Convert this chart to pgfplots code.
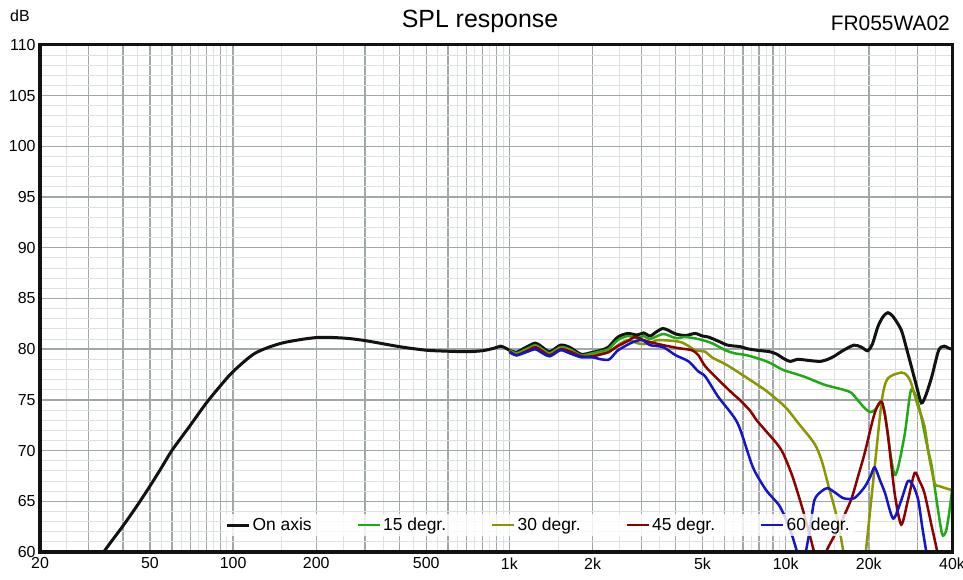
\documentclass[border=0pt]{standalone}
\usepackage{fontspec}
\setmainfont{Liberation Sans}
\usepackage{pgfplots}
\pgfplotsset{compat=1.18}
\definecolor{cgreen}{RGB}{30,170,20}
\definecolor{colive}{RGB}{140,150,0}
\definecolor{cred}{RGB}{140,0,0}
\definecolor{cblue}{RGB}{20,20,200}
\definecolor{gmaj}{RGB}{160,168,168}
\definecolor{gmin}{RGB}{222,225,225}
\begin{document}
\begin{tikzpicture}
\useasboundingbox (-40bp,-28bp) rectangle (923bp,552bp);
\begin{axis}[
  at={(0,0)}, anchor=south west, scale only axis,
  width=912bp, height=507bp,
  xmode=log, xmin=20, xmax=40000, ymin=60, ymax=110,
  xtick={20,30,40,50,60,70,80,90,100,200,300,400,500,600,700,800,900,1000,2000,3000,4000,5000,6000,7000,8000,9000,10000,20000,30000,40000},
  xticklabels={20,{},{},50,{},{},{},{},100,200,{},{},500,{},{},{},{},1k,2k,{},{},5k,{},{},{},{},10k,20k,{},40k},
  minor xtick={25,35,45,55,65,75,85,95,150,250,350,450,550,650,750,850,950,1500,2500,3500,4500,5500,6500,7500,8500,9500,15000,25000,35000},
  ytick={60,65,70,75,80,85,90,95,100,105,110},
  minor ytick={61,62,63,64,66,67,68,69,71,72,73,74,76,77,78,79,81,82,83,84,86,87,88,89,91,92,93,94,96,97,98,99,101,102,103,104,106,107,108,109},
  grid=both,
  major grid style={gmaj, line width=1.4bp},
  minor grid style={gmin, line width=1bp},
  major tick length=0pt, minor tick length=0pt,
  axis line style={draw=none},
  tick label style={font=\fontsize{16}{19}\selectfont},
  /pgf/number format/assume math mode=true,
  yticklabel style={xshift=-1bp},
  xticklabel style={yshift=-2bp},
  legend columns=5,
  legend style={draw=none, fill=white, fill opacity=0.8, text opacity=1,
    at={(axis description cs:0.2,0.053)}, anchor=west,
    font=\fontsize{17.5}{20}\selectfont,
    /tikz/every even column/.append style={column sep=43bp}},
  legend image code/.code={\draw[#1] (0bp,0bp) -- (22bp,0bp);},
  every axis plot/.append style={smooth, tension=0.45},
]
\addplot[black!93, line width=3bp] coordinates {
(30,57.7) (34,60.0) (40,62.6) (45,64.6) (50,66.5) (55,68.3) (60,70.0) (70,72.5) (80,74.7) (90,76.4) (100,77.8) (120,79.6) (150,80.6) (200,81.15) (250,81.1) (300,80.85) (400,80.25) (500,79.9) (600,79.8) (700,79.75) (800,79.85) (880,80.1) (930,80.3) (970,80.1) (1000,79.9) (1060,79.7) (1150,80.2) (1240,80.6) (1300,80.3) (1400,79.75) (1530,80.4) (1650,80.2) (1820,79.5) (2000,79.7) (2150,79.9) (2280,80.2) (2470,81.2) (2680,81.55) (2900,81.4) (3060,81.6) (3230,81.3) (3400,81.7) (3600,82.05) (3800,81.8) (4000,81.5) (4340,81.35) (4700,81.55) (5000,81.3) (5250,81.2) (5700,80.8) (6160,80.4) (6850,80.25) (7250,80.05) (7850,79.9) (8770,79.75) (9300,79.5) (9800,79.1) (10380,78.8) (11000,79.0) (11640,78.95) (12500,78.85) (13400,78.8) (14200,79.0) (14970,79.3) (16200,79.9) (17680,80.4) (18800,80.2) (19800,79.85) (20600,80.5) (21550,82.2) (22500,83.2) (23430,83.6) (24500,83.2) (26200,81.9) (27300,80.2) (28500,78.3) (29800,76.3) (31000,74.7) (32200,75.5) (33800,77.3) (35800,79.9) (37500,80.3) (38900,80.1) (40000,80.0)
};
\addlegendentry{On axis}
\addplot[cgreen, line width=2.5bp] coordinates {
(1000,79.9) (1060,79.6) (1150,80.0) (1240,80.4) (1300,80.1) (1400,79.6) (1530,80.2) (1650,80.0) (1820,79.4) (2000,79.6) (2150,79.8) (2280,80.0) (2470,80.9) (2680,81.3) (2900,81.1) (3060,81.3) (3230,81.0) (3600,81.5) (4000,81.1) (4340,81.2) (4830,81.0) (5400,80.6) (6050,79.9) (6520,79.6) (7250,79.4) (8340,78.9) (9000,78.5) (9800,77.95) (11640,77.3) (13800,76.5) (16200,76.0) (17300,75.7) (18200,75.0) (19300,74.2) (20200,73.8) (21000,74.0) (22100,74.7) (22800,73.8) (23400,71.7) (24000,69.5) (24800,67.6) (25600,68.5) (27000,71.7) (28000,75.0) (28500,76.0) (29500,75.5) (31000,73.3) (32500,70.5) (33800,68.4) (35000,65.5) (36800,61.8) (38000,62.0) (38900,63.5) (40000,66.0)
};
\addlegendentry{15 degr.}
\addplot[colive, line width=2.5bp] coordinates {
(1000,79.8) (1060,79.5) (1150,79.9) (1240,80.3) (1300,80.0) (1400,79.5) (1530,80.1) (1650,79.9) (1820,79.3) (2000,79.4) (2150,79.6) (2280,79.7) (2470,80.4) (2680,80.9) (2900,80.6) (3060,80.5) (3230,80.6) (3450,80.9) (4100,80.75) (4400,80.4) (4700,79.9) (5120,79.75) (5400,79.2) (6160,78.4) (7600,76.8) (8500,75.9) (9520,74.8) (10200,74.0) (11000,72.85) (12700,70.7) (13500,69.0) (14200,66.8) (15400,63.2) (16200,59.9) (16500,58.5) (19200,58.5) (19500,60.0) (21000,68.4) (22300,75.0) (23400,77.1) (26200,77.7) (27500,77.4) (28500,76.6) (30000,74.5) (31800,72.4) (33000,69.5) (34600,66.8) (36000,66.5) (37800,66.3) (40000,66.1)
};
\addlegendentry{30 degr.}
\addplot[cred, line width=2.5bp] coordinates {
(1000,79.8) (1060,79.4) (1150,79.8) (1240,80.2) (1300,79.9) (1400,79.4) (1530,80.0) (1650,79.8) (1820,79.3) (2000,79.3) (2150,79.5) (2280,79.7) (2470,80.3) (2680,80.8) (2850,81.2) (3060,80.9) (3230,80.7) (3600,80.4) (4100,80.1) (4580,79.9) (4830,79.4) (5120,78.3) (5700,77.0) (6500,75.5) (6700,75.2) (7400,74.0) (7850,73.0) (8500,71.9) (9280,70.7) (9800,69.7) (10600,67.4) (11640,63.8) (12700,59.9) (13000,58.5) (13700,58.5) (14000,60.0) (15400,62.2) (17220,65.1) (18300,67.5) (19300,69.7) (21000,73.7) (22300,74.8) (23400,71.7) (24800,65.8) (26200,62.7) (27700,65.1) (29300,67.8) (30500,67.0) (31800,65.8) (33800,62.5) (35400,60.0) (36500,58.0)
};
\addlegendentry{45 degr.}
\addplot[cblue, line width=2.5bp] coordinates {
(1000,79.7) (1060,79.4) (1150,79.7) (1240,80.0) (1300,79.7) (1400,79.3) (1530,79.9) (1650,79.6) (1820,79.2) (2000,79.2) (2150,79.0) (2300,79.0) (2450,79.8) (2580,80.2) (2800,80.7) (3020,80.9) (3230,80.4) (3600,80.2) (4000,79.4) (4450,78.8) (4830,77.8) (5120,77.3) (5700,75.3) (6700,72.7) (7600,68.4) (8500,66.1) (9520,64.5) (10380,62.2) (11000,60.0) (11300,59.0) (11700,59.5) (12200,62.0) (12700,65.1) (13500,66.0) (14200,66.3) (15200,65.8) (16200,65.3) (17700,65.3) (19300,66.4) (20300,67.5) (21000,68.35) (22000,67.0) (22900,65.8) (24500,63.3) (26200,65.1) (27700,67.0) (29000,66.5) (30200,65.1) (31200,62.5) (32200,60.2) (33000,58.5)
};
\addlegendentry{60 degr.}
\end{axis}
\draw[black!93, line width=3bp] (current axis.south west) rectangle (current axis.north east);
\node[anchor=base, font=\fontsize{25}{30}\selectfont, inner sep=0pt] at (440bp,524bp) {SPL response};
\node[anchor=base east, font=\fontsize{21}{25}\selectfont, inner sep=0pt] at (910bp,521bp) {FR055WA02};
\node[anchor=base west, font=\fontsize{16}{19}\selectfont, inner sep=0pt] at (-30bp,530bp) {dB};
\end{tikzpicture}
\end{document}
